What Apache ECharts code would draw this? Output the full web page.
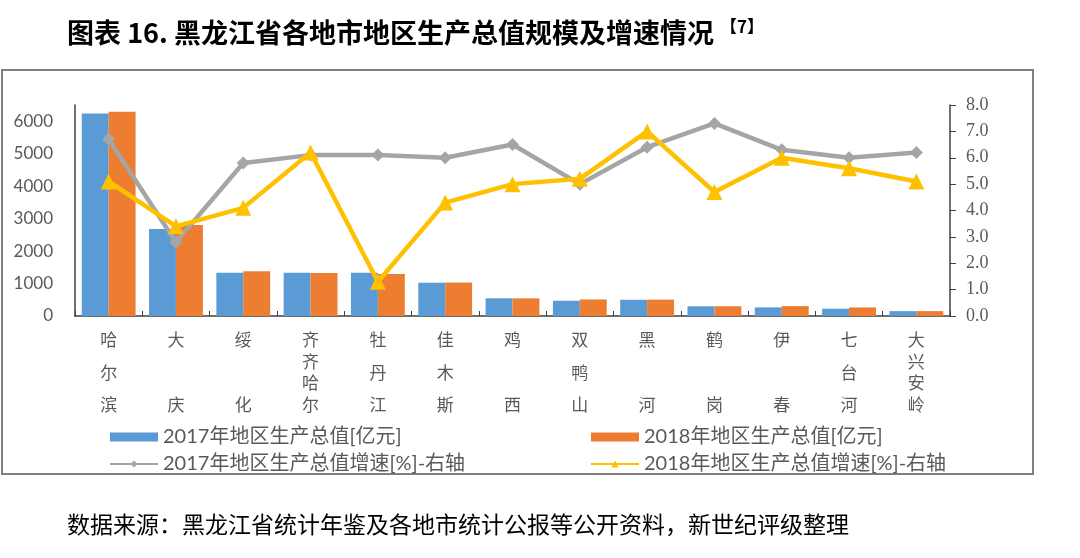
<!DOCTYPE html>
<html>
<head>
<meta charset="utf-8">
<script src="https://cdn.jsdelivr.net/npm/echarts@6/dist/echarts.min.js"></script>
<style>
  html, body { margin: 0; padding: 0; background: #fff; }
  #chart { width: 1080px; height: 558px; }
</style>
</head>
<body>
<div id="chart"></div>
<script>
const cities = ['哈尔滨', '大庆', '绥化', '齐齐哈尔', '牡丹江', '佳木斯', '鸡西', '双鸭山', '黑河', '鹤岗', '伊春', '七台河', '大兴安岭']
const gdp2017 = [6240, 2680, 1335, 1330, 1335, 1025, 545, 470, 500, 300, 265, 225, 150]
const gdp2018 = [6290, 2800, 1375, 1325, 1290, 1030, 545, 510, 505, 300, 305, 265, 150]
const growth2017 = [6.7, 2.8, 5.8, 6.1, 6.1, 6.0, 6.5, 5.0, 6.4, 7.3, 6.3, 6.0, 6.2]
const growth2018 = [5.1, 3.4, 4.1, 6.2, 1.3, 4.3, 5.0, 5.2, 7.0, 4.7, 6.0, 5.6, 5.1]
const leftTicks = { min: 0, max: 6500, step: 1000 }
const rightTicks = { min: 0, max: 8, step: 1 }

const names = {
  bar17: '2017年地区生产总值[亿元]',
  bar18: '2018年地区生产总值[亿元]',
  line17: '2017年地区生产总值增速[%]-右轴',
  line18: '2018年地区生产总值增速[%]-右轴'
}

const gray = '#595959'
const cjk = "'Noto Sans CJK SC'"

// 竖排标签：首尾字位置固定，中间按字数均分
const verticalLabel = (val) => {
  const chars = val.split('')
  const n = chars.length
  return chars.map((c) => '{c|' + c + '}').join('\n{s' + n + '| }\n')
}

const chart = echarts.init(document.getElementById('chart'))

chart.setOption({
  animation: false,
  title: [
    {
      text: '{t|图表 16. 黑龙江省各地市地区生产总值规模及增速情况 }{sup|【7】}',
      left: 62,
      top: 13,
      textStyle: {
        rich: {
          t: { fontFamily: cjk, fontWeight: 'bold', fontSize: 27, color: '#000' },
          sup: { fontFamily: cjk, fontWeight: 'bold', fontSize: 17, color: '#000', verticalAlign: 'top', padding: [0, 0, 12, 0] }
        }
      }
    },
    {
      text: '数据来源：黑龙江省统计年鉴及各地市统计公报等公开资料，新世纪评级整理',
      left: 62,
      top: 508,
      textStyle: { fontFamily: cjk, fontWeight: 'normal', fontSize: 23, color: '#000' }
    }
  ],
  graphic: [
    {
      type: 'rect',
      shape: { x: 2, y: 70, width: 1031, height: 404 },
      style: { fill: 'none', stroke: '#7f7f7f', lineWidth: 2 },
      silent: true
    }
  ],
  legend: [
    {
      orient: 'vertical',
      left: 104,
      top: 422,
      itemWidth: 48,
      itemHeight: 9,
      itemGap: 7,
      textStyle: { fontFamily: "Lato, 'Noto Sans CJK SC'", fontSize: 20, color: gray },
      data: [{ name: names.bar17, icon: 'rect' }, names.line17]
    },
    {
      orient: 'vertical',
      left: 585,
      top: 422,
      itemWidth: 48,
      itemHeight: 9,
      itemGap: 7,
      textStyle: { fontFamily: "Lato, 'Noto Sans CJK SC'", fontSize: 20, color: gray },
      data: [{ name: names.bar18, icon: 'rect' }, names.line18]
    }
  ],
  grid: {
    left: 75,
    right: 130,
    top: 105,
    bottom: 242
  },
  xAxis: {
    type: 'category',
    data: cities,
    axisLine: { lineStyle: { color: '#404040', width: 1.5 } },
    axisTick: { show: true, inside: true, length: 5, lineStyle: { color: '#404040' } },
    axisLabel: {
      interval: 0,
      margin: 14,
      formatter: verticalLabel,
      rich: {
        c: { fontFamily: cjk, fontSize: 17, lineHeight: 20, color: gray },
        s2: { fontSize: 1, lineHeight: 45 },
        s3: { fontSize: 1, lineHeight: 12.5 },
        s4: { fontSize: 1, lineHeight: 1.5 }
      }
    }
  },
  yAxis: [
    {
      type: 'value',
      min: leftTicks.min,
      max: leftTicks.max,
      interval: leftTicks.step,
      splitLine: { show: false },
      axisLine: { show: true, lineStyle: { color: '#404040', width: 1.5 } },
      axisTick: { show: false },
      axisLabel: {
        showMaxLabel: false,
        margin: 22,
        fontFamily: 'Lato',
        fontSize: 17,
        color: gray,
        formatter: (v) => String(v)
      }
    },
    {
      type: 'value',
      min: rightTicks.min,
      max: rightTicks.max,
      interval: rightTicks.step,
      splitLine: { show: false },
      axisLine: { show: true, lineStyle: { color: '#404040', width: 1.5 } },
      axisTick: { show: true, length: 6, lineStyle: { color: '#404040' } },
      axisLabel: {
        margin: 16,
        fontFamily: "'Liberation Serif'",
        fontSize: 18,
        color: gray,
        formatter: (v) => v.toFixed(1)
      }
    }
  ],
  series: [
    {
      name: names.bar17,
      type: 'bar',
      data: gdp2017,
      barGap: '0%',
      barCategoryGap: '20%',
      itemStyle: { color: '#5B9BD5' }
    },
    {
      name: names.bar18,
      type: 'bar',
      data: gdp2018,
      itemStyle: { color: '#ED7D31' }
    },
    {
      name: names.line17,
      type: 'line',
      yAxisIndex: 1,
      data: growth2017,
      symbol: 'diamond',
      symbolSize: 13,
      lineStyle: { color: '#A5A5A5', width: 4.5 },
      itemStyle: { color: '#A5A5A5' },
      z: 3
    },
    {
      name: names.line18,
      type: 'line',
      yAxisIndex: 1,
      data: growth2018,
      symbol: 'triangle',
      symbolSize: 16,
      lineStyle: { color: '#FFC000', width: 4.5 },
      itemStyle: { color: '#FFC000' },
      z: 4
    }
  ]
})
</script>
</body>
</html>
